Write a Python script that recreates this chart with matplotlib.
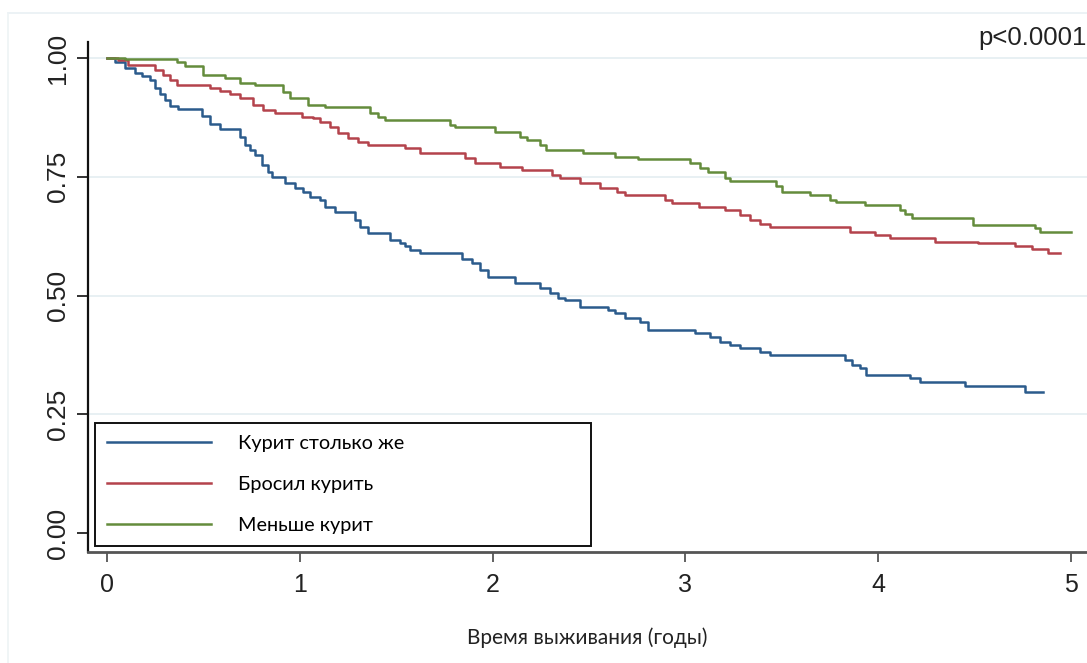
import matplotlib
matplotlib.use("Agg")
import matplotlib.pyplot as plt
from matplotlib.lines import Line2D

# кривые Каплана-Мейера, значения
blue_t = [0, 0.041, 0.093, 0.145, 0.18, 0.223, 0.249, 0.275, 0.301, 0.327, 0.368, 0.493, 0.534, 0.586, 0.690,
          0.716, 0.742, 0.768, 0.804, 0.835, 0.856, 0.923, 0.975, 1.017, 1.053, 1.105, 1.131, 1.183, 1.286, 1.312,
          1.354, 1.468, 1.520, 1.546, 1.572, 1.623, 1.841, 1.893, 1.935, 1.976, 2.116, 2.246, 2.298, 2.339, 2.376,
          2.453, 2.599, 2.635, 2.687, 2.765, 2.806, 3.050, 3.128, 3.179, 3.231, 3.283, 3.387, 3.439, 3.828, 3.864,
          3.906, 3.937, 4.165, 4.217, 4.450, 4.761, 4.855]
blue_s = [1.0, 0.992, 0.979, 0.968, 0.962, 0.954, 0.937, 0.924, 0.912, 0.899, 0.893, 0.878, 0.861, 0.851, 0.834,
          0.817, 0.806, 0.796, 0.775, 0.760, 0.749, 0.737, 0.726, 0.718, 0.707, 0.701, 0.686, 0.676, 0.659, 0.644,
          0.632, 0.617, 0.611, 0.604, 0.596, 0.589, 0.577, 0.568, 0.554, 0.539, 0.526, 0.516, 0.505, 0.495, 0.491,
          0.476, 0.469, 0.463, 0.453, 0.444, 0.427, 0.421, 0.413, 0.402, 0.396, 0.389, 0.381, 0.375, 0.364, 0.354,
          0.347, 0.333, 0.326, 0.318, 0.309, 0.297, 0.297]

red_t = [0, 0.057, 0.109, 0.249, 0.290, 0.327, 0.363, 0.534, 0.586, 0.638, 0.690, 0.757, 0.809, 0.871, 1.011,
         1.07, 1.105, 1.157, 1.198, 1.250, 1.302, 1.354, 1.546, 1.623, 1.857, 1.909, 2.038, 2.153, 2.308, 2.350,
         2.453, 2.557, 2.645, 2.687, 2.894, 2.931, 3.071, 3.205, 3.283, 3.335, 3.387, 3.439, 3.854, 3.983, 4.061,
         4.295, 4.518, 4.710, 4.798, 4.881, 4.943]
red_s = [1.0, 0.996, 0.985, 0.975, 0.964, 0.954, 0.943, 0.937, 0.931, 0.924, 0.916, 0.901, 0.891, 0.884, 0.876,
         0.874, 0.865, 0.855, 0.842, 0.832, 0.823, 0.817, 0.811, 0.800, 0.789, 0.779, 0.771, 0.764, 0.754, 0.747,
         0.737, 0.726, 0.718, 0.712, 0.701, 0.695, 0.686, 0.680, 0.669, 0.659, 0.651, 0.644, 0.634, 0.627, 0.621,
         0.613, 0.611, 0.604, 0.598, 0.589, 0.589]

green_t = [0, 0.093, 0.363, 0.405, 0.498, 0.612, 0.690, 0.768, 0.913, 0.949, 1.042, 1.131, 1.364, 1.406, 1.442,
           1.779, 1.805, 2.012, 2.142, 2.178, 2.246, 2.277, 2.469, 2.635, 2.754, 3.024, 3.076, 3.117, 3.205, 3.231,
           3.470, 3.501, 3.646, 3.750, 3.781, 3.932, 4.113, 4.139, 4.175, 4.492, 4.813, 4.839, 5.0]
green_s = [1.0, 0.998, 0.992, 0.983, 0.964, 0.958, 0.947, 0.943, 0.928, 0.916, 0.901, 0.897, 0.884, 0.876, 0.869,
           0.859, 0.855, 0.844, 0.834, 0.827, 0.817, 0.806, 0.800, 0.792, 0.787, 0.779, 0.768, 0.760, 0.747, 0.741,
           0.731, 0.718, 0.712, 0.701, 0.697, 0.691, 0.680, 0.672, 0.663, 0.648, 0.642, 0.634, 0.634]

labels = ["Курит столько же", "Бросил курить", "Меньше курит"]
colors = ["#2b5b8c", "#b4434c", "#648c3c"]
x_ticks = [0, 1, 2, 3, 4, 5]
y_ticks = [0.00, 0.25, 0.50, 0.75, 1.00]

fig = plt.figure(figsize=(10.87, 6.63), dpi=100)
ax = fig.add_axes([0.081, 0.1674, 0.919, 0.7693])

# бледная рамка области графика
fig.add_artist(Line2D([8 / 1087, 1.0], [1 - 13 / 663, 1 - 13 / 663], color="#e9f0f3", lw=1.2))
fig.add_artist(Line2D([8 / 1087, 8 / 1087], [1 - 13 / 663, 0.0], color="#eef3f5", lw=1.2))

for yv in [0.25, 0.50, 0.75, 1.00]:
    ax.axhline(yv, color="#e6eff2", lw=1.3, zorder=0)

for t, s, lab, c in zip([blue_t, red_t, green_t], [blue_s, red_s, green_s], labels, colors):
    ax.step(t, s, where="post", color=c, lw=1.8, label=lab)

ax.set_xlim(-0.0985, 5.083)
ax.set_ylim(-0.04, 1.034)
ax.set_xticks(x_ticks)
ax.set_xticklabels([str(v) for v in x_ticks], fontsize=18, family="Liberation Sans", color="#222222")
ax.set_yticks(y_ticks)
ax.set_yticklabels(["%.2f" % v for v in y_ticks], fontsize=19, family="Liberation Sans",
                   rotation=90, va="center", color="#222222")
ax.tick_params(axis="y", direction="out", length=8, width=1.3, pad=5, color="#222222")
ax.tick_params(axis="x", direction="out", length=7, width=1.3, pad=8, color="#555555")

for side in ["top", "right"]:
    ax.spines[side].set_visible(False)
ax.spines["left"].set_color("#111111")
ax.spines["left"].set_linewidth(1.6)
ax.spines["bottom"].set_color("#555555")
ax.spines["bottom"].set_linewidth(2.0)

ax.set_xlabel("Время выживания (годы)", fontsize=15, family="Lato", color="#222222", labelpad=22)

ax.text(0.9995, 1.008, "p<0.0001", transform=ax.transAxes, ha="right", va="center",
        fontsize=18.5, family="Liberation Sans", color="#222222")

leg = ax.legend(loc="lower left", bbox_to_anchor=(0.007, 0.0118, 0.4965, 0.249), mode="expand",
                borderaxespad=0, fancybox=False, edgecolor="#111111", framealpha=1,
                prop={"family": "Lato", "size": 14.3}, handlelength=5.2, handletextpad=1.4,
                labelspacing=1.2, borderpad=0.62)
leg.get_frame().set_linewidth(1.4)

fig.savefig("out.png", dpi=100)
